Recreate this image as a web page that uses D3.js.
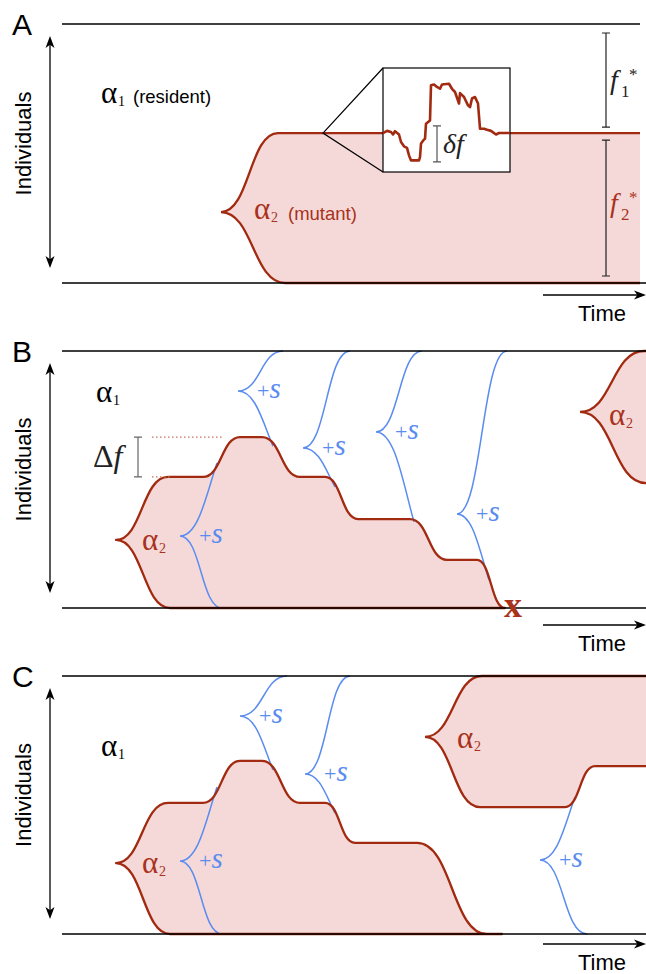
<!DOCTYPE html>
<html>
<head>
<meta charset="utf-8">
<script src="https://cdn.jsdelivr.net/npm/d3@7"></script>
<style>
body { margin: 0; background: #fff; }
svg { display: block; }
</style>
</head>
<body>
<div id="chart"></div>
<script>
var width = 646, height = 974;
var red = "#a12a10", redText = "#a8321c", blue = "#5a8cf0", pink = "#f5d9d8";
var sans = "'Liberation Sans', Arial, sans-serif", serif = "'Liberation Serif', 'Times New Roman', serif";

// ---------------- data (time, fraction of individuals) ----------------
var timeDomain = [0, 292];
var panelNames = ["A", "B", "C"];

// A: a single mutant invading, settling at f2*
var cloneA_upper = [[79.5, 0.274], [108, 0.579], [289, 0.579]];
var cloneA_lower = [[79.5, 0.274], [111.5, 0], [289, 0]];

// B: mutant hit by successive +s sweeps in the resident, then lost
var cloneB1_upper = [[27, 0.265], [53, 0.51], [70.5, 0.51], [89, 0.665], [100, 0.665], [119, 0.51], [131.5, 0.51],
    [148, 0.346], [174, 0.346], [192.5, 0.187], [207.5, 0.187], [221.5, 0]];
var cloneB1_lower = [[27, 0.265], [54, 0]];
var cloneB2_upper = [[259, 0.763], [291, 1], [292, 1]];
var cloneB2_lower = [[259, 0.763], [292, 0.486]];
var sweepsB = [
    { cusp: [59, 0.280], upper: [77.5, 0.564], lower: [80, 0], merge: "upper" },
    { cusp: [88, 0.844], upper: [110.5, 1], lower: [105.5, 0.630], merge: "lower" },
    { cusp: [120.5, 0.623], upper: [144, 1], lower: [136.5, 0.471], merge: "lower" },
    { cusp: [157, 0.685], upper: [180, 1], lower: [176, 0.335], merge: "lower" },
    { cusp: [197.5, 0.366], upper: [222.5, 1], lower: [213.5, 0.109], merge: "lower" }
];
var extinctB = [225.5, 0];

// C: same start, the second mutant arrives before the first is lost
var cloneC1_upper = [[27, 0.275], [53, 0.508], [70.5, 0.508], [89, 0.671], [100, 0.671], [119, 0.508], [131.5, 0.508],
    [146.5, 0.353], [177.5, 0.353], [212.5, 0], [220, 0]];
var cloneC1_lower = [[27, 0.275], [54, 0]];
var cloneC2_upper = [[181.5, 0.764], [210, 1], [292, 1]];
var cloneC2_lower = [[181.5, 0.764], [209, 0.492], [251.5, 0.492], [266.5, 0.651], [292, 0.651]];
var sweepsC = [
    { cusp: [59, 0.283], upper: [77.5, 0.570], lower: [80, 0], merge: "upper" },
    { cusp: [89, 0.845], upper: [112.5, 1], lower: [105.5, 0.636], merge: "lower" },
    { cusp: [121.5, 0.620], upper: [144, 1], lower: [136.5, 0.469], merge: "lower" },
    { cusp: [239, 0.287], upper: [256.5, 0.531], lower: [262.5, 0], merge: "upper" }
];

// A inset: noisy trace around f2* (offset in time, deviation in units of delta f)
var insetT = [0, 4, 8, 10, 12, 16, 18, 21, 24, 26, 28, 36, 37, 38, 41, 42, 43, 47, 48, 51, 54, 57, 59, 66, 69, 72,
    76, 77, 81, 85, 87, 89, 92, 95, 97, 101, 104, 108, 113, 116, 127];
var insetDev = [0, 0.06, 0.03, -0.04, 0.05, -0.04, -0.25, -0.37, -0.41, -0.62, -0.76, -0.76, -0.67, -0.29, -0.18,
    -0.16, 0.26, 0.35, 1.33, 1.35, 1.28, 1.23, 1.35, 1.37, 1.23, 1.14, 0.82, 1.11, 1.0, 0.77, 0.72, 0.96, 1.0, 0.82,
    0.12, 0.12, 0.09, 0.06, -0.04, 0, 0];
var fStar = [0.579, 1];        // f2* top, panel top
var deltaF = [0.510, 0.665];   // B plateau levels

// ---------------- layout ----------------
var panelTop = [24, 351, 676], panelBottom = [283, 608, 934];
var lineEnd = [640, 646, 646];
var timeArrowY = [295, 625, 944];

var svg = d3.select("#chart").append("svg")
    .attr("width", width)
    .attr("height", height);

var x = d3.scaleLinear().domain(timeDomain).range([62, 646]);
var ys = panelTop.map(function (t, i) {
    return d3.scaleLinear().domain([0, 1]).range([panelBottom[i], t]);
});

var fillLayer = svg.append("g"), blueLayer = svg.append("g"), redLayer = svg.append("g"), inkLayer = svg.append("g");

function seg(p, a, b, y, mergeEnd) {
    var x0 = x(a[0]), y0 = y(a[1]), x1 = x(b[0]), y1 = y(b[1]);
    var dx = x1 - x0, dy = y1 - y0;
    if (Math.abs(dy) < 0.01) { p.lineTo(x1, y1); return; }
    if (mergeEnd) p.bezierCurveTo(x0 + 0.5 * dx, y0, x1 - 0.3 * dx, y1 - 0.45 * dy, x1, y1);
    else p.bezierCurveTo(x0 + 0.5 * dx, y0, x1 - 0.5 * dx, y1, x1, y1);
}

function walk(p, knots, y) {
    for (var i = 1; i < knots.length; i++) seg(p, knots[i - 1], knots[i], y, false);
}

function drawClone(i, upper, lower, closed) {
    var y = ys[i];
    var p = d3.path();
    p.moveTo(x(upper[0][0]), y(upper[0][1]));
    walk(p, upper, y);
    var last = lower[lower.length - 1];
    p.lineTo(x(last[0]), y(last[1]));
    walk(p, lower.slice().reverse(), y);
    p.closePath();
    fillLayer.append("path").attr("d", p.toString()).attr("fill", pink);

    var s = d3.path();
    if (closed) {
        s = p;
    } else {
        s.moveTo(x(upper[0][0]), y(upper[0][1]));
        walk(s, upper, y);
        s.moveTo(x(lower[0][0]), y(lower[0][1]));
        walk(s, lower, y);
    }
    redLayer.append("path")
        .attr("d", s.toString())
        .attr("fill", "none")
        .attr("stroke", red)
        .attr("stroke-width", 2.3)
        .attr("stroke-linejoin", "round");
}

function drawSweeps(i, sweeps) {
    var y = ys[i];
    sweeps.forEach(function (d) {
        var p = d3.path();
        p.moveTo(x(d.cusp[0]), y(d.cusp[1]));
        seg(p, d.cusp, d.upper, y, d.merge === "upper");
        p.moveTo(x(d.cusp[0]), y(d.cusp[1]));
        seg(p, d.cusp, d.lower, y, d.merge === "lower");
        blueLayer.append("path")
            .attr("d", p.toString())
            .attr("fill", "none")
            .attr("stroke", blue)
            .attr("stroke-width", 1.5);

        var t = inkLayer.append("text")
            .attr("x", x(d.cusp[0]) + 19)
            .attr("y", y(d.cusp[1]) + 7)
            .attr("fill", blue)
            .style("font-family", serif);
        t.append("tspan").style("font-size", "22px").text("+");
        t.append("tspan").style("font-size", "29px").style("font-style", "italic").text("s");
    });
}

function head(g, tx, ty, dx, dy) {
    var L = 12, W = 4.5;
    var bx = tx - dx * L, by = ty - dy * L, nx = tx - dx * L * 0.72, ny = ty - dy * L * 0.72;
    g.append("path")
        .attr("d", "M" + tx + "," + ty + "L" + (bx - dy * W) + "," + (by + dx * W) + "L" + nx + "," + ny +
            "L" + (bx + dy * W) + "," + (by - dx * W) + "Z")
        .attr("fill", "#000");
}

function greek(g, px, py, sym, sub, color) {
    g.append("text").attr("x", px - 1).attr("y", py).attr("fill", color)
        .style("font-family", serif).style("font-size", "31px").text(sym);
    g.append("text").attr("x", px + 16).attr("y", py + 3).attr("fill", color)
        .style("font-family", serif).style("font-size", "14px").text(sub);
}

function fLabel(g, px, py, sub, color) {
    g.append("text").attr("x", px).attr("y", py).attr("fill", color)
        .style("font-family", serif).style("font-size", "28px").style("font-style", "italic").text("f");
    g.append("text").attr("x", px + 11).attr("y", py + 8).attr("fill", color)
        .style("font-family", serif).style("font-size", "17px").text(sub);
    g.append("text").attr("x", px + 19).attr("y", py - 9).attr("fill", color)
        .style("font-family", serif).style("font-size", "17px").text("*");
}

function bar(g, bx, y0, y1, color) {
    g.append("path")
        .attr("d", "M" + (bx - 4) + "," + y0 + "H" + (bx + 4) + "M" + bx + "," + y0 + "V" + y1 + "M" + (bx - 4) + "," + y1 + "H" + (bx + 4))
        .attr("stroke", color).attr("stroke-width", 1.2).attr("fill", "none");
}

// ---------------- clones and sweeps ----------------
drawClone(0, cloneA_upper, cloneA_lower, false);
drawClone(1, cloneB1_upper, cloneB1_lower, true);
drawClone(1, cloneB2_upper, cloneB2_lower, false);
drawClone(2, cloneC1_upper, cloneC1_lower, true);
drawClone(2, cloneC2_upper, cloneC2_lower, false);
drawSweeps(1, sweepsB);
drawSweeps(2, sweepsC);

// ---------------- frame: lines, arrows, labels ----------------
panelNames.forEach(function (name, i) {
    var y = ys[i];
    inkLayer.append("path")
        .attr("d", "M62," + y(1) + "H" + lineEnd[i] + "M62," + y(0) + "H646")
        .attr("stroke", "#000").attr("stroke-width", 1.6).attr("fill", "none");

    inkLayer.append("text").attr("x", 12).attr("y", y(1) + 11)
        .style("font-family", sans).style("font-size", "30px").text(name);

    var a0 = y(1) + 12, a1 = y(0) - 15;
    inkLayer.append("line").attr("x1", 50).attr("x2", 50).attr("y1", a0 + 6).attr("y2", a1 - 6)
        .attr("stroke", "#000").attr("stroke-width", 1.3);
    head(inkLayer, 50, a0, 0, -1);
    head(inkLayer, 50, a1, 0, 1);

    var cy = (y(0) + y(1)) / 2 - 10;
    inkLayer.append("text")
        .attr("transform", "translate(31," + cy + ") rotate(-90)")
        .attr("text-anchor", "middle")
        .style("font-family", sans).style("font-size", "22px").text("Individuals");

    var ty = timeArrowY[i];
    inkLayer.append("line").attr("x1", 543).attr("x2", 638).attr("y1", ty).attr("y2", ty)
        .attr("stroke", "#000").attr("stroke-width", 1.3);
    head(inkLayer, 646, ty, 1, 0);
    inkLayer.append("text").attr("x", 578).attr("y", ty + 26)
        .style("font-family", sans).style("font-size", "22px").text("Time");
});

// ---------------- panel A annotations ----------------
var yA = ys[0];
greek(inkLayer, 102, 103, "\u03b1", "1", "#000");
inkLayer.append("text").attr("x", 133).attr("y", 103)
    .style("font-family", sans).style("font-size", "18.5px").text("(resident)");
greek(inkLayer, 255, 219, "\u03b1", "2", redText);
inkLayer.append("text").attr("x", 288).attr("y", 220).attr("fill", redText)
    .style("font-family", sans).style("font-size", "18.5px").text("(mutant)");

bar(inkLayer, 606, yA(fStar[1]) + 9, yA(fStar[0]) - 6, "#222");
bar(inkLayer, 606, yA(fStar[0]) + 7, yA(0) - 7, "#222");
fLabel(inkLayer, 610, 89, "1", "#222");
fLabel(inkLayer, 610, 212, "2", redText);

// zoom inset
var ix = d3.scaleLinear().domain([0, 127]).range([383, 510]);
var iy = d3.scaleLinear().domain([0, 1]).range([yA(fStar[0]), yA(fStar[0]) - 36]);
var apex = x(130.5);
inkLayer.append("path")
    .attr("d", "M383,68L" + apex + "," + yA(fStar[0]) + "L383,172")
    .attr("stroke", "#000").attr("stroke-width", 1.2).attr("fill", "none");
inkLayer.append("rect").attr("x", 383).attr("y", 68).attr("width", 127).attr("height", 104)
    .attr("fill", "#fff").attr("stroke", "#000").attr("stroke-width", 1.2);
inkLayer.append("path")
    .datum(d3.zip(insetT, insetDev))
    .attr("d", d3.line().x(function (d) { return ix(d[0]); }).y(function (d) { return iy(d[1]); }))
    .attr("fill", "none").attr("stroke", red).attr("stroke-width", 2.6).attr("stroke-linejoin", "round");
bar(inkLayer, ix(54), iy(0.2), iy(-0.8), "#555");
inkLayer.append("text").attr("x", 443).attr("y", 153).attr("fill", "#222")
    .style("font-family", serif).style("font-size", "28px").style("font-style", "italic")
    .text("\u03b4f");

// ---------------- panel B annotations ----------------
var yB = ys[1];
greek(inkLayer, 97, 402, "\u03b1", "1", "#000");
greek(inkLayer, 143, 550, "\u03b1", "2", redText);
greek(inkLayer, 610, 425, "\u03b1", "2", redText);
bar(inkLayer, 138, yB(deltaF[1]), yB(deltaF[0]), "#666");
var dfB = inkLayer.append("text").attr("x", 93).attr("y", 467).attr("fill", "#222")
    .style("font-family", serif).style("font-size", "32px");
dfB.append("tspan").text("\u0394");
dfB.append("tspan").style("font-style", "italic").text("f");
inkLayer.append("path")
    .attr("d", "M152," + yB(deltaF[1]) + "H222M152," + yB(deltaF[0]) + "H170")
    .attr("stroke", "#c8705c").attr("stroke-width", 1.3).attr("stroke-dasharray", "1.5,2.5").attr("fill", "none");
inkLayer.append("text")
    .attr("x", x(extinctB[0])).attr("y", yB(extinctB[1]) + 9)
    .attr("text-anchor", "middle").attr("fill", redText)
    .style("font-family", serif).style("font-size", "36px").style("font-weight", "bold").text("x");

// ---------------- panel C annotations ----------------
greek(inkLayer, 102, 756, "\u03b1", "1", "#000");
greek(inkLayer, 143, 873, "\u03b1", "2", redText);
greek(inkLayer, 458, 748, "\u03b1", "2", redText);
</script>
</body>
</html>
